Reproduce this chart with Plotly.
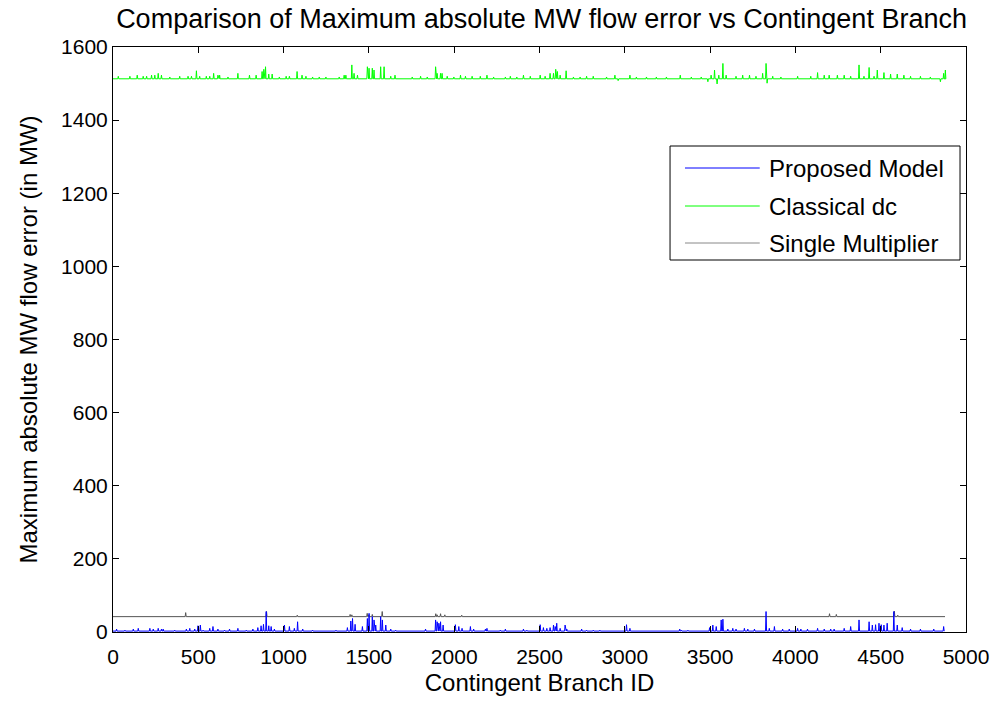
import plotly.graph_objects as go

# ---------------- data ----------------
x_end = 4877

# Proposed Model (blue): baseline and spikes (branch id, MW)
blue_base = 2.5
blue_ids = [21, 70, 119, 148, 216, 236, 265, 284, 294, 362, 430, 450, 479, 498, 512, 528,
            567, 586, 615, 654, 683, 732, 781, 820, 849, 868, 882, 898, 913, 927, 946,
            1005, 1034, 1063, 1082, 1112, 1170, 1307, 1374, 1394, 1404, 1419, 1462, 1491,
            1501, 1520, 1530, 1540, 1569, 1579, 1599, 1628, 1657, 1832, 1891, 1900, 1910,
            1920, 1935, 2007, 2027, 2046, 2095, 2114, 2183, 2192, 2270, 2300, 2406, 2426,
            2504, 2523, 2543, 2562, 2582, 2592, 2601, 2621, 2650, 2660, 2747, 2776, 2815,
            2854, 3010, 3030, 3322, 3331, 3370, 3497, 3516, 3536, 3565, 3575, 3604, 3633,
            3652, 3701, 3721, 3760, 3828, 3847, 3877, 3925, 3964, 4013, 4032, 4071, 4130,
            4169, 4207, 4227, 4286, 4324, 4373, 4432, 4451, 4470, 4490, 4503, 4519, 4538,
            4577, 4597, 4626, 4675, 4733, 4811, 4869]
blue_vals = [8, 5, 8, 10, 10, 8, 10, 8, 8, 5, 8, 10, 8, 17, 19, 5,
             10, 15, 8, 5, 8, 10, 5, 8, 12, 17, 21, 56, 17, 15, 8,
             19, 15, 10, 28, 8, 5, 5, 12, 30, 37, 21, 15, 37,
             51, 42, 33, 19, 42, 33, 19, 8, 5, 8, 33, 28, 24,
             28, 19, 20, 15, 10, 15, 8, 8, 10, 5, 8, 8, 5,
             20, 12, 10, 12, 19, 15, 24, 10, 19, 8, 8, 5, 5,
             5, 20, 10, 8, 5, 5, 12, 19, 15, 33, 35, 8, 10,
             8, 10, 8, 8, 56, 10, 15, 8, 8, 10, 8, 8, 10,
             8, 8, 8, 10, 15, 33, 28, 19, 20, 24, 20, 19, 24,
             56, 19, 12, 8, 8, 8, 15]

# Classical dc (green): baseline and spikes
green_base = 1513
green_ids = [31, 99, 142, 177, 197, 226, 245, 265, 284, 333, 391, 440, 460, 489, 508, 547,
             567, 590, 615, 625, 674, 732, 800, 839, 874, 884, 894, 913, 933, 975, 1015,
             1034, 1079, 1108, 1131, 1170, 1209, 1248, 1326, 1355, 1365, 1400, 1413, 1433,
             1491, 1501, 1520, 1530, 1569, 1589, 1628, 1653, 1754, 1803, 1842, 1891, 1900,
             1920, 1929, 1959, 1998, 2037, 2066, 2105, 2153, 2192, 2231, 2300, 2329, 2367,
             2406, 2446, 2504, 2533, 2562, 2582, 2595, 2605, 2621, 2656, 2699, 2738, 2776,
             2815, 2893, 2942, 2961, 3030, 3068, 3127, 3185, 3244, 3325, 3390, 3448, 3487,
             3506, 3526, 3541, 3551, 3575, 3594, 3652, 3691, 3731, 3769, 3808, 3828, 3834,
             3867, 3915, 4013, 4090, 4130, 4169, 4198, 4246, 4286, 4324, 4373, 4402, 4432,
             4461, 4480, 4519, 4558, 4597, 4636, 4675, 4733, 4791, 4850, 4869, 4879]
green_vals = [1520, 1520, 1523, 1520, 1520, 1523, 1523, 1528, 1523, 1518, 1520, 1520, 1520, 1535, 1520, 1520,
              1520, 1528, 1523, 1523, 1518, 1528, 1523, 1523, 1533, 1539, 1546, 1526, 1526, 1518, 1520,
              1520, 1533, 1523, 1520, 1518, 1518, 1518, 1518, 1523, 1523, 1551, 1528, 1523,
              1546, 1542, 1542, 1537, 1546, 1546, 1520, 1523, 1518, 1520, 1518, 1546, 1528,
              1528, 1528, 1520, 1518, 1523, 1520, 1520, 1520, 1523, 1518, 1518, 1520, 1518,
              1523, 1520, 1523, 1520, 1528, 1528, 1539, 1533, 1523, 1535, 1518, 1518, 1520,
              1520, 1518, 1523, 1508, 1523, 1518, 1518, 1518, 1518, 1523, 1518, 1518, 1505,
              1523, 1537, 1499, 1523, 1555, 1523, 1520, 1523, 1523, 1520, 1528, 1555, 1501,
              1520, 1518, 1520, 1520, 1530, 1523, 1523, 1523, 1523, 1520, 1551, 1520, 1544,
              1520, 1537, 1530, 1526, 1526, 1523, 1520, 1520, 1518, 1505, 1528, 1537]

# Single Multiplier (black/grey): baseline and spikes
black_base = 42
black_ids = [426, 900, 1080, 1390, 1400, 1490, 1500, 1520, 1578, 1892, 1900, 1920, 1945,
             2044, 4200, 4240, 4580, 4600]
black_vals = [53, 56, 46, 48, 47, 51, 47, 48, 56, 50, 47, 50, 47,
              46, 50, 48, 57, 46]


def spiky(base, ids, vals, end, half=3):
    xs, ys = [0], [base]
    for i, v in zip(ids, vals):
        xs += [i - half, i, i + half]
        ys += [base, v, base]
    xs.append(end)
    ys.append(base)
    return xs, ys


fig = go.Figure()
bx, by = spiky(black_base, black_ids, black_vals, x_end)
gx, gy = spiky(green_base, green_ids, green_vals, x_end - 2)
ux, uy = spiky(blue_base, blue_ids, blue_vals, x_end - 4)

fig.add_trace(go.Scatter(x=bx, y=by, mode="lines", name="Single Multiplier",
                         line=dict(color="#555555", width=1), showlegend=False))
fig.add_trace(go.Scatter(x=gx, y=gy, mode="lines", name="Classical dc",
                         line=dict(color="#00FF00", width=1), showlegend=False))
fig.add_trace(go.Scatter(x=ux, y=uy, mode="lines", name="Proposed Model",
                         line=dict(color="#0000FF", width=1), showlegend=False))

FONT = "Liberation Sans, Arial, sans-serif"

# plot area in pixels: x 113..969, y 47..632
def px(x):
    return (x - 113) / 856.0

def py(y):
    return (632 - y) / 585.0

shapes = [dict(type="rect", xref="paper", yref="paper",
               x0=px(672), x1=px(963), y0=py(260), y1=py(146),
               line=dict(color="black", width=1), fillcolor="white", layer="above")]
annotations = []
legend_items = [("Proposed Model", "#0000FF", 168),
                ("Classical dc", "#00FF00", 206),
                ("Single Multiplier", "#888888", 243)]
for name, col, yy in legend_items:
    shapes.append(dict(type="line", xref="paper", yref="paper",
                       x0=px(687), x1=px(762), y0=py(yy), y1=py(yy),
                       line=dict(color=col, width=1), layer="above"))
    annotations.append(dict(xref="paper", yref="paper", x=px(769), y=py(yy),
                            text=name, showarrow=False, xanchor="left", yanchor="middle",
                            font=dict(family=FONT, size=24, color="black")))

fig.update_layout(
    width=1001, height=706,
    margin=dict(l=113, r=32, t=47, b=74),
    paper_bgcolor="white", plot_bgcolor="white",
    font=dict(family=FONT, size=21, color="black"),
    title=dict(text="Comparison of Maximum absolute MW flow error vs Contingent Branch",
               x=0.541, xanchor="center", y=0.974, yanchor="middle",
               font=dict(family=FONT, size=27, color="black")),
    shapes=shapes, annotations=annotations,
    xaxis=dict(range=[0, 5000], dtick=500, tick0=0, showgrid=False, zeroline=False,
               showline=True, linecolor="black", linewidth=1, mirror="ticks",
               ticks="inside", ticklen=6, tickcolor="black", ticklabelstandoff=6,
               title=dict(text="Contingent Branch ID", font=dict(size=24), standoff=6),
               tickfont=dict(size=21)),
    yaxis=dict(range=[0, 1600], dtick=200, tick0=0, showgrid=False, zeroline=False,
               showline=True, linecolor="black", linewidth=1, mirror="ticks",
               ticks="inside", ticklen=6, tickcolor="black",
               title=dict(text="Maximum absolute MW flow error (in MW)", font=dict(size=24), standoff=16),
               tickfont=dict(size=21)),
)

fig.write_html("out.html")
